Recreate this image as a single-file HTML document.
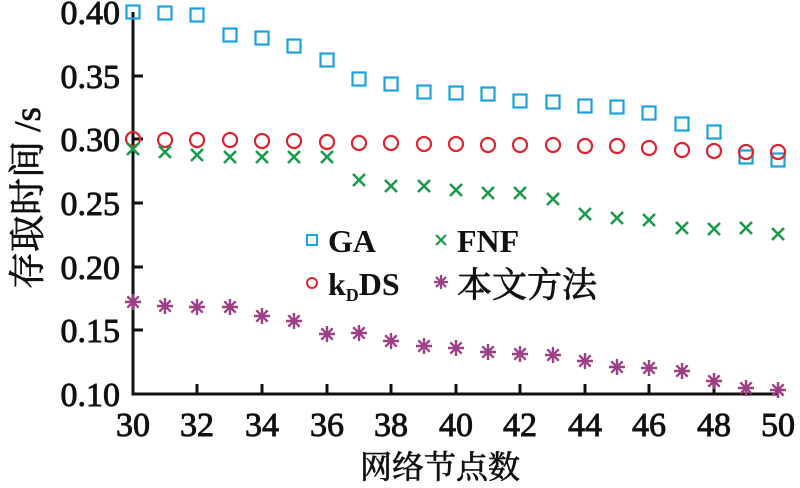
<!DOCTYPE html>
<html><head><meta charset="utf-8"><style>html,body{margin:0;padding:0;background:#fff}svg{display:block}</style></head>
<body>
<svg width="800" height="488" viewBox="0 0 800 488" xmlns="http://www.w3.org/2000/svg">
<defs>
<g id="sq"><rect x="-6.5" y="-6.5" width="13" height="13" fill="none" stroke="#1ba1dc" stroke-width="2.2"/></g>
<g id="ci"><circle r="7" fill="none" stroke="#d9232e" stroke-width="2.2"/></g>
<g id="xx"><path d="M-6,-6L6,6M-6,6L6,-6" stroke="#1a9a4a" stroke-width="2.6"/></g>
<g id="st"><path d="M-8,0H8M0,-8V8M-5.7,-5.7L5.7,5.7M-5.7,5.7L5.7,-5.7" stroke="#9b3f86" stroke-width="2.4"/></g>
</defs>
<g stroke="#111" stroke-width="3" fill="none">
<path d="M133,12V394H779"/>
<path d="M133,76H143M133,139H143M133,203H143M133,267H143M133,330H143"/>
<path d="M197,394V384M262,394V384M327,394V384M391,394V384M456,394V384M520,394V384M585,394V384M649,394V384M714,394V384"/>
</g>
<g font-family="Liberation Serif, serif" font-size="34" fill="#111" stroke="#111" stroke-width="0.9" text-anchor="end">
<text x="120" y="24">0.40</text><text x="120" y="88">0.35</text><text x="120" y="151">0.30</text>
<text x="120" y="215">0.25</text><text x="120" y="279">0.20</text><text x="120" y="342">0.15</text><text x="120" y="406">0.10</text>
</g>
<g font-family="Liberation Serif, serif" font-size="34" fill="#111" stroke="#111" stroke-width="0.9" text-anchor="middle">
<text x="133" y="436">30</text><text x="197" y="436">32</text><text x="262" y="436">34</text><text x="327" y="436">36</text>
<text x="391" y="436">38</text><text x="456" y="436">40</text><text x="520" y="436">42</text><text x="585" y="436">44</text>
<text x="649" y="436">46</text><text x="714" y="436">48</text><text x="778" y="436">50</text>
</g>
<text x="440" y="478" font-family="Liberation Serif, 'Noto Serif CJK SC', serif" font-size="32" stroke="#111" stroke-width="0.7" text-anchor="middle" fill="#111">网络节点数</text>
<text transform="translate(40,198) rotate(-90)" font-family="Liberation Serif, 'Noto Serif CJK SC', serif" font-size="37" stroke="#111" stroke-width="0.7" text-anchor="middle" fill="#111">存取时间 /s</text>
<g>
<use href="#sq" x="133" y="12"/><use href="#sq" x="165" y="13"/><use href="#sq" x="197" y="15"/><use href="#sq" x="230" y="35"/><use href="#sq" x="262" y="38"/><use href="#sq" x="294" y="46"/><use href="#sq" x="327" y="60"/><use href="#sq" x="359" y="79"/><use href="#sq" x="391" y="84"/><use href="#sq" x="424" y="92"/><use href="#sq" x="456" y="93"/><use href="#sq" x="488" y="94"/><use href="#sq" x="520" y="101"/><use href="#sq" x="553" y="102"/><use href="#sq" x="585" y="106"/><use href="#sq" x="617" y="107"/><use href="#sq" x="649" y="113"/><use href="#sq" x="682" y="124"/><use href="#sq" x="714" y="132"/><use href="#sq" x="746" y="157"/><use href="#sq" x="778" y="160"/>
<use href="#ci" x="133" y="139"/><use href="#ci" x="165" y="140"/><use href="#ci" x="197" y="140"/><use href="#ci" x="230" y="140"/><use href="#ci" x="262" y="141"/><use href="#ci" x="294" y="141"/><use href="#ci" x="327" y="142"/><use href="#ci" x="359" y="143"/><use href="#ci" x="391" y="143"/><use href="#ci" x="424" y="144"/><use href="#ci" x="456" y="144"/><use href="#ci" x="488" y="145"/><use href="#ci" x="520" y="145"/><use href="#ci" x="553" y="145"/><use href="#ci" x="585" y="146"/><use href="#ci" x="617" y="146"/><use href="#ci" x="649" y="148"/><use href="#ci" x="682" y="150"/><use href="#ci" x="714" y="151"/><use href="#ci" x="746" y="152"/><use href="#ci" x="778" y="152"/>
<use href="#xx" x="133" y="149"/><use href="#xx" x="165" y="152"/><use href="#xx" x="197" y="155"/><use href="#xx" x="230" y="157"/><use href="#xx" x="262" y="157"/><use href="#xx" x="294" y="157"/><use href="#xx" x="327" y="157"/><use href="#xx" x="359" y="180"/><use href="#xx" x="391" y="186"/><use href="#xx" x="424" y="186"/><use href="#xx" x="456" y="190"/><use href="#xx" x="488" y="193"/><use href="#xx" x="520" y="193"/><use href="#xx" x="553" y="199"/><use href="#xx" x="585" y="214"/><use href="#xx" x="617" y="218"/><use href="#xx" x="649" y="220"/><use href="#xx" x="682" y="228"/><use href="#xx" x="714" y="229"/><use href="#xx" x="746" y="228"/><use href="#xx" x="778" y="234"/>
<use href="#st" x="133" y="302"/><use href="#st" x="165" y="306"/><use href="#st" x="197" y="307"/><use href="#st" x="230" y="307"/><use href="#st" x="262" y="316"/><use href="#st" x="294" y="321"/><use href="#st" x="327" y="334"/><use href="#st" x="359" y="333"/><use href="#st" x="391" y="341"/><use href="#st" x="424" y="346"/><use href="#st" x="456" y="348"/><use href="#st" x="488" y="352"/><use href="#st" x="520" y="354"/><use href="#st" x="553" y="355"/><use href="#st" x="585" y="361"/><use href="#st" x="617" y="367"/><use href="#st" x="649" y="368"/><use href="#st" x="682" y="371"/><use href="#st" x="714" y="381"/><use href="#st" x="746" y="388"/><use href="#st" x="778" y="390"/>
</g>
<g>
<rect x="307" y="235" width="10" height="10" fill="none" stroke="#1ba1dc" stroke-width="2"/>
<circle cx="312" cy="283" r="5" fill="none" stroke="#d9232e" stroke-width="2"/>
<path d="M436,235L446,245M436,245L446,235" stroke="#1a9a4a" stroke-width="2.2"/>
<path d="M434,282H448M441,275V289M436,277L446,287M436,287L446,277" stroke="#9b3f86" stroke-width="2.2"/>
</g>
<g font-family="Liberation Serif, 'Noto Serif CJK SC', serif" font-weight="bold" font-size="32" fill="#111">
<text x="328" y="252">GA</text>
<text x="457" y="252">FNF</text>
<text x="328" y="295">k<tspan font-size="18" dy="6">D</tspan><tspan dy="-6">DS</tspan></text>
<text x="457" y="297" font-weight="normal" stroke="#111" stroke-width="0.8" font-size="35">本文方法</text>
</g>
</svg>
</body></html>
